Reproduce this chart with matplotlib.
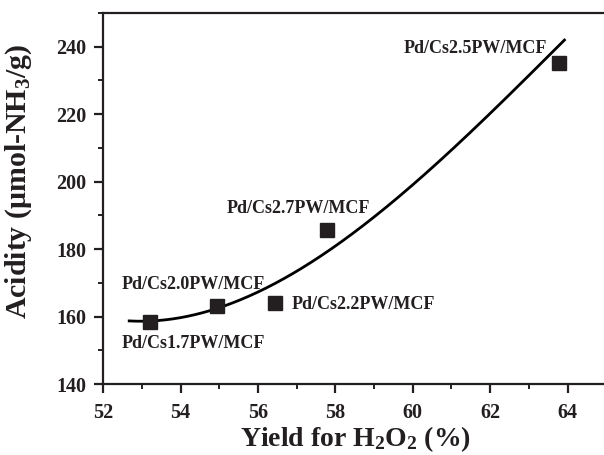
import numpy as np
import matplotlib
matplotlib.use("Agg")
import matplotlib.pyplot as plt
from matplotlib.ticker import MultipleLocator

plt.rcParams["font.family"] = ["Liberation Serif", "DejaVu Serif"]
plt.rcParams["font.weight"] = "bold"
plt.rcParams["mathtext.fontset"] = "custom"
plt.rcParams["mathtext.rm"] = "Liberation Serif:bold"
plt.rcParams["mathtext.bf"] = "Liberation Serif:bold"
plt.rcParams["mathtext.default"] = "bf"

# catalyst samples: H2O2 yield vs. acidity
samples = ["Pd/Cs1.7PW/MCF", "Pd/Cs2.0PW/MCF", "Pd/Cs2.2PW/MCF",
           "Pd/Cs2.7PW/MCF", "Pd/Cs2.5PW/MCF"]
h2o2_yield = [53.21, 54.93, 56.45, 57.77, 63.78]
acidity = [158.3, 163.2, 163.9, 185.8, 235.1]

# trend curve read along its path
trend_x = [52.67, 53.74, 54.86, 55.87, 57.51, 57.90, 59.15, 61.21, 63.92]
trend_y = [158.2, 159.7, 162.9, 166.3, 176.7, 179.6, 191.0, 212.2, 241.8]

# label anchors (x, y, horizontal alignment)
label_pos = [(52.48, 152.0, "left"), (52.48, 169.4, "left"),
             (56.87, 163.7, "left"), (57.04, 192.1, "center"),
             (63.47, 239.5, "right")]

fig = plt.figure(figsize=(6.04, 4.55), dpi=100)
ax = fig.add_axes([0.171, 0.156, 0.8455, 0.8154])

coef = np.polyfit(trend_x, trend_y, 3)
xs = np.linspace(trend_x[0], trend_x[-1], 300)
ax.plot(xs, np.polyval(coef, xs), color="black", lw=2.0, zorder=2)
ax.plot(h2o2_yield, acidity, ls="none", marker="s", ms=10,
        color="#231f20", zorder=3)

for name, (tx, ty, ha) in zip(samples, label_pos):
    ax.text(tx, ty, name, ha=ha, va="center", fontsize=13,
            fontweight="bold", color="#231f20")

ax.set_xlim(52, 65.2)
ax.set_ylim(140, 250)
ax.xaxis.set_major_locator(MultipleLocator(2))
ax.xaxis.set_minor_locator(MultipleLocator(1))
ax.yaxis.set_major_locator(MultipleLocator(20))
ax.yaxis.set_minor_locator(MultipleLocator(10))
ax.set_yticks([140, 160, 180, 200, 220, 240])
ax.tick_params(which="major", direction="out", length=6.5, width=1.6,
               labelsize=14.5, pad=5.5, colors="#231f20")
ax.tick_params(axis="x", which="major", pad=7.5)
ax.tick_params(which="minor", direction="out", length=3.6, width=1.4,
               colors="#231f20")
for lab in ax.get_xticklabels() + ax.get_yticklabels():
    lab.set_fontweight("bold")
for s in ax.spines.values():
    s.set_linewidth(1.6)
    s.set_color("#231f20")
ax.spines["right"].set_visible(False)

ax.set_xlabel(r"Yield for H$_2$O$_2$ (%)", fontsize=20, fontweight="bold",
              color="#231f20")
ax.set_ylabel(r"Acidity (μmol-NH$_3$/g)", fontsize=21.5, fontweight="bold",
              color="#231f20")
ax.xaxis.set_label_coords(0.494, -0.108)
ax.yaxis.set_label_coords(-0.136, 0.546)

fig.savefig("out.png", dpi=100)
